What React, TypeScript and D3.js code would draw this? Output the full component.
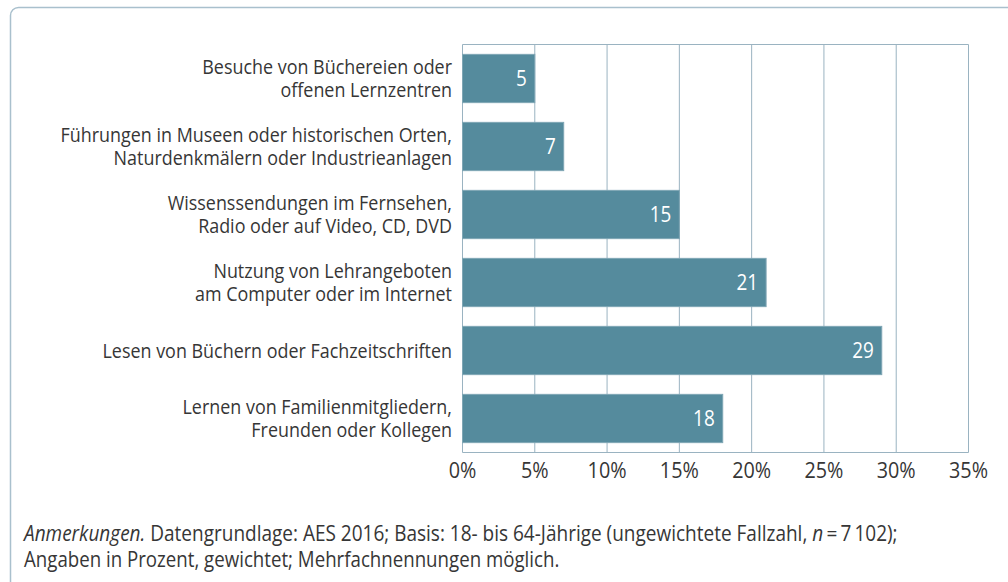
import React from "react";
import * as d3 from "d3";

const categories: string[][] = [
  ["Besuche von Büchereien oder", "offenen Lernzentren"],
  ["Führungen in Museen oder historischen Orten,", "Naturdenkmälern oder Industrieanlagen"],
  ["Wissenssendungen im Fernsehen,", "Radio oder auf Video, CD, DVD"],
  ["Nutzung von Lehrangeboten", "am Computer oder im Internet"],
  ["Lesen von Büchern oder Fachzeitschriften"],
  ["Lernen von Familienmitgliedern,", "Freunden oder Kollegen"],
];
const values: number[] = [5, 7, 15, 21, 29, 18];
const ticks: number[] = [0, 5, 10, 15, 20, 25, 30, 35];

const W = 1008;
const H = 582;
const FONT = "'Open Sans', 'Noto Sans', sans-serif";
const TEXT = "#363636";
const GRID = "#9ab3c1";
const BAR = "#558b9d";

function CText(props: {
  x: number;
  y: number;
  k: number;
  size: number;
  anchor: "start" | "middle" | "end";
  fill: string;
  children: React.ReactNode;
}) {
  const { x, y, k, size, anchor, fill, children } = props;
  return (
    <g transform={`translate(${x},${y}) scale(${k},1)`}>
      <text x={0} y={0} dy="0.36em" textAnchor={anchor} fill={fill} fontSize={size}>
        {children}
      </text>
    </g>
  );
}

export default function App() {
  const left = 462.5;
  const right = 968.5;
  const top = 44.5;
  const bottom = 452.5;
  const x = d3.scaleLinear().domain([0, 35]).range([left, right]);
  const y = d3
    .scaleBand<number>()
    .domain(d3.range(values.length))
    .range([top, bottom])
    .paddingInner(0.29)
    .paddingOuter(0.145);

  return (
    <div style={{ position: "absolute", left: 0, top: 0 }}>
      <svg width={W} height={H} style={{ display: "block" }} fontFamily={FONT}>
        <rect x={0} y={0} width={W} height={H} fill="#ffffff" />
        <rect x={10.5} y={7.5} width={W + 20} height={H + 20} rx={8} ry={8} fill="none" stroke="#a9c0cd" strokeWidth={1.5} />
        {ticks.map((t) => (
          <line key={"g" + t} x1={x(t)} x2={x(t)} y1={top} y2={bottom} stroke={GRID} strokeWidth={1} />
        ))}
        <line x1={left} x2={right} y1={top} y2={top} stroke={GRID} strokeWidth={1} />
        <line x1={left} x2={right} y1={bottom} y2={bottom} stroke={GRID} strokeWidth={1} />
        {values.map((v, i) => (
          <g key={"b" + i}>
            <rect
              x={x(0)}
              y={y(i)!}
              width={x(v) - x(0)}
              height={y.bandwidth()}
              fill={BAR}
              stroke="#7fa6b4"
              strokeWidth={1}
            />
            <CText x={x(v) - 8} y={y(i)! + y.bandwidth() / 2} k={0.86} size={22} anchor="end" fill="#ffffff">
              {v}
            </CText>
          </g>
        ))}
        {categories.map((lines, i) => {
          const cy = y(i)! + y.bandwidth() / 2;
          const lh = 23;
          const start = cy - ((lines.length - 1) * lh) / 2;
          return (
            <g key={"c" + i}>
              {lines.map((l, j) => (
                <CText key={j} x={452} y={start + j * lh} k={0.874} size={20.5} anchor="end" fill={TEXT}>
                  {l}
                </CText>
              ))}
            </g>
          );
        })}
        {ticks.map((t) => (
          <CText key={"t" + t} x={x(t)} y={470} k={0.9} size={22} anchor="middle" fill={TEXT}>
            {t + "%"}
          </CText>
        ))}
        <CText x={24} y={533} k={0.905} size={21} anchor="start" fill={TEXT}>
          <tspan fontStyle="italic">Anmerkungen.</tspan>
          <tspan> Datengrundlage: AES 2016; Basis: 18- bis 64-Jährige (ungewichtete Fallzahl, </tspan>
          <tspan fontStyle="italic">n</tspan>
          <tspan>{"\u2009=\u20097\u2009102);"}</tspan>
        </CText>
        <CText x={24} y={559} k={0.89} size={21} anchor="start" fill={TEXT}>
          Angaben in Prozent, gewichtet; Mehrfachnennungen möglich.
        </CText>
      </svg>
    </div>
  );
}
